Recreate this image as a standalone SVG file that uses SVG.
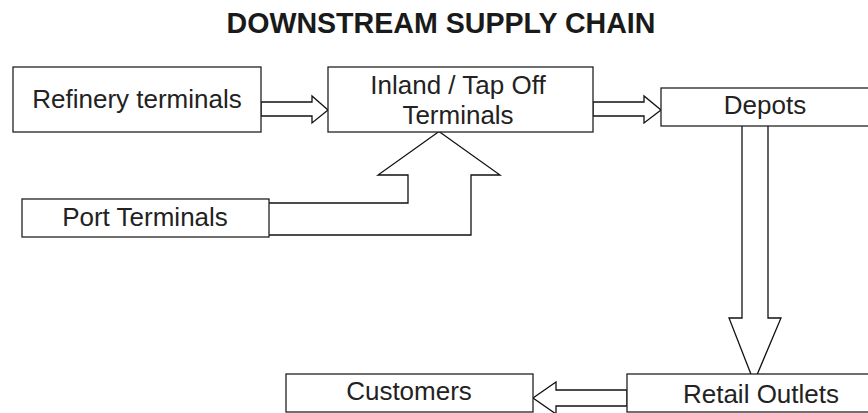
<svg xmlns="http://www.w3.org/2000/svg" width="868" height="413" viewBox="0 0 868 413">
  <style>
    .box { fill: #ffffff; stroke: #222222; stroke-width: 1.3; }
    .flow { fill: #ffffff; stroke: #111111; stroke-width: 1.3; stroke-linejoin: miter; }
    .label { font-family: "Liberation Sans", Arial, sans-serif; font-size: 26px; fill: #222222; text-anchor: middle; }
    .title { font-family: "Liberation Sans", Arial, sans-serif; font-size: 28.6px; font-weight: bold; fill: #1a1a1a; text-anchor: middle; }
  </style>
  <rect width="868" height="413" fill="#ffffff"/>

  <text class="title" x="441" y="33">DOWNSTREAM SUPPLY CHAIN</text>

  <!-- block arrows between stages -->
  <g id="connectors">
    <polygon class="flow" points="261,102 312,102 312,96 328,110 312,123 312,116 261,116"/>
    <polygon class="flow" points="593,102 644,102 644,96 661,110 644,123 644,116 593,116"/>
    <path class="flow" d="M269,203 L408,203 L408,175 L378,175 L439,131.5 L500,175 L471,175 L471,235 L269,235"/>
    <polygon class="flow" points="742,124 742,318 729,318 754,382 781,318 768,318 768,124"/>
    <polygon class="flow" points="627,390 556,390 556,382 533,398 556,414 556,406 627,406"/>
  </g>

  <g id="refinery">
    <rect class="box" x="13" y="67" width="248" height="65"/>
    <text class="label" x="137" y="108">Refinery terminals</text>
  </g>

  <g id="inland">
    <rect class="box" x="328" y="67" width="265" height="65"/>
    <text class="label" x="458" y="94">Inland / Tap Off</text>
    <text class="label" x="458" y="124">Terminals</text>
  </g>

  <g id="depots">
    <rect class="box" x="661" y="88" width="212" height="38"/>
    <text class="label" x="765" y="114">Depots</text>
  </g>

  <g id="port">
    <rect class="box" x="22" y="199" width="247" height="38"/>
    <text class="label" x="145" y="226">Port Terminals</text>
  </g>

  <g id="customers">
    <rect class="box" x="286" y="374" width="247" height="38"/>
    <text class="label" x="409" y="400">Customers</text>
  </g>

  <g id="retail">
    <rect class="box" x="627" y="374" width="246" height="38"/>
    <text class="label" x="761" y="403">Retail Outlets</text>
  </g>
</svg>
